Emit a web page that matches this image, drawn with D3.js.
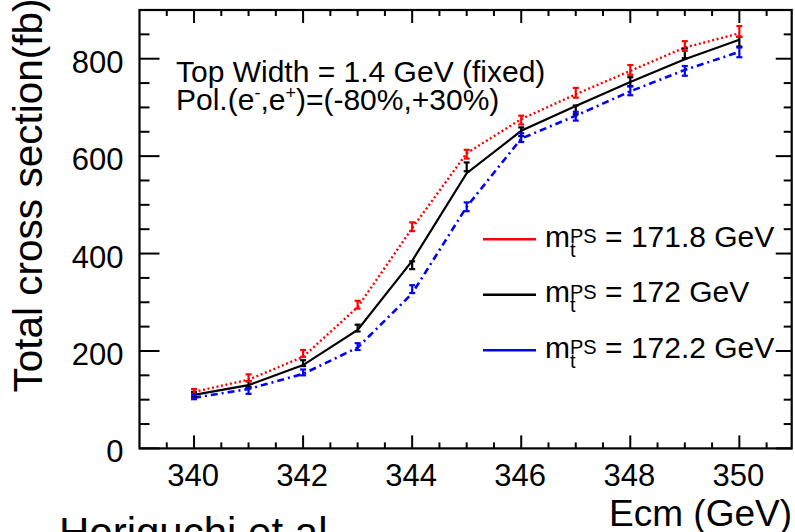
<!DOCTYPE html>
<html>
<head>
<meta charset="utf-8">
<script src="https://cdn.jsdelivr.net/npm/d3@7"></script>
<style>
  html, body { margin: 0; padding: 0; background: #fff; }
  svg { display: block; }
  text { font-family: "Liberation Sans", Arial, Helvetica, sans-serif; fill: #000; }
</style>
</head>
<body>
<svg id="chart" width="795" height="532"></svg>
<script>
// ---- data ----
const ecm = [340, 341, 342, 343, 344, 345, 346, 347, 348, 349, 350];

// theory curves
const lineRed   = [116, 141, 188, 290, 452, 606, 676, 727, 775, 823, 852];
const lineBlack = [110, 130, 171, 243, 385, 565, 652, 703, 752, 799, 839];
const lineBlue  = [104, 122, 153, 207, 318, 496, 636, 683, 733, 777, 814];

// simulated points with errors
const ptRed     = [116, 145, 195, 295, 455, 604, 674, 730, 777, 826, 856];
const errRed    = [6, 7, 7, 8, 9, 9, 9, 10, 10, 10, 11];
const ptBlack   = [111, 132, 175, 247, 376, 578, 650, 695, 753, 811, 835];
const errBlack  = [5, 6, 6, 7, 8, 9, 9, 9, 9, 10, 10];
const ptBlue    = [106, 118, 156, 209, 327, 496, 638, 682, 734, 775, 813];
const errBlue   = [5, 6, 6, 7, 8, 9, 9, 9, 9, 10, 10];

const seriesNames = ["171.8", "172", "172.2"];
const seriesColors = ["#ff0000", "#000000", "#0000ff"];

const xMajorTicks = [340, 342, 344, 346, 348, 350];
const yMajorTicks = [0, 200, 400, 600, 800];

const xTitle = "Ecm (GeV)";
const yTitle = "Total cross section(fb)";
const noteLine1 = "Top Width = 1.4 GeV (fixed)";
const footer = "Horiguchi et al.";

// ---- layout ----
const svg = d3.select("#chart");
const x = d3.scaleLinear().domain([339, 350.96]).range([139.5, 791.7]);
const y = d3.scaleLinear().domain([0, 900]).range([448.4, 10]);
const [x0, x1] = x.range();
const [y0, y1] = y.range();

// ---- ticks ----
const xMinor = d3.range(339.5, 351, 0.5).filter(v => !xMajorTicks.includes(v));
const yMinor = d3.range(50, 900, 50).filter(v => !yMajorTicks.includes(v));
const tk = svg.append("g").attr("stroke", "#000").attr("stroke-width", 2);
xMajorTicks.forEach(v => {
  tk.append("line").attr("x1", x(v)).attr("x2", x(v)).attr("y1", y0).attr("y2", y0 - 13);
  tk.append("line").attr("x1", x(v)).attr("x2", x(v)).attr("y1", y1).attr("y2", y1 + 13);
});
xMinor.forEach(v => {
  tk.append("line").attr("x1", x(v)).attr("x2", x(v)).attr("y1", y0).attr("y2", y0 - 6);
  tk.append("line").attr("x1", x(v)).attr("x2", x(v)).attr("y1", y1).attr("y2", y1 + 6);
});
yMajorTicks.forEach(v => {
  tk.append("line").attr("x1", x0).attr("x2", x0 + 20).attr("y1", y(v)).attr("y2", y(v));
  tk.append("line").attr("x1", x1).attr("x2", x1 - 16).attr("y1", y(v)).attr("y2", y(v));
});
yMinor.forEach(v => {
  tk.append("line").attr("x1", x0).attr("x2", x0 + 10).attr("y1", y(v)).attr("y2", y(v));
  tk.append("line").attr("x1", x1).attr("x2", x1 - 8).attr("y1", y(v)).attr("y2", y(v));
});

// frame
svg.append("rect").attr("x", x0).attr("y", y1).attr("width", x1 - x0).attr("height", y0 - y1)
  .attr("fill", "none").attr("stroke", "#000").attr("stroke-width", 2.2);

// tick labels
svg.append("g").selectAll("text").data(xMajorTicks).join("text")
  .attr("x", d => x(d) - 1).attr("y", 486).attr("text-anchor", "middle")
  .style("font-size", "31px").text(d => d);
svg.append("g").selectAll("text").data(yMajorTicks).join("text")
  .attr("x", 123.5).attr("y", d => y(d) + 14).attr("text-anchor", "end")
  .style("font-size", "31px").text(d => d);

// axis titles
svg.append("text").attr("x", 792).attr("y", 525.5).attr("text-anchor", "end")
  .style("font-size", "37px").text(xTitle);
svg.append("text").attr("transform", "translate(42,195.5) rotate(-90)")
  .attr("text-anchor", "middle").style("font-size", "40.5px").text(yTitle);
svg.append("text").attr("x", 59).attr("y", 547).style("font-size", "42px").text(footer);

// ---- curves ----
const line = d3.line().x((d, i) => x(ecm[i])).y(d => y(d));
svg.append("path").datum(lineBlack).attr("d", line).attr("fill", "none")
  .attr("stroke", seriesColors[1]).attr("stroke-width", 2.2);
svg.append("path").datum(lineRed).attr("d", line).attr("fill", "none")
  .attr("stroke", seriesColors[0]).attr("stroke-width", 2.4).attr("stroke-dasharray", "2,2.6");
svg.append("path").datum(lineBlue).attr("d", line).attr("fill", "none")
  .attr("stroke", seriesColors[2]).attr("stroke-width", 2.6).attr("stroke-dasharray", "7,4,2,4");

// ---- error bars ----
function errBars(vals, errs, color) {
  const g = svg.append("g").attr("stroke", color).attr("stroke-width", 2.2);
  vals.forEach((v, i) => {
    const cx = x(ecm[i]);
    const ya = y(v - errs[i]), yb = y(v + errs[i]);
    g.append("line").attr("x1", cx).attr("x2", cx).attr("y1", ya).attr("y2", yb);
    g.append("line").attr("x1", cx - 3).attr("x2", cx + 3).attr("y1", ya).attr("y2", ya);
    g.append("line").attr("x1", cx - 3).attr("x2", cx + 3).attr("y1", yb).attr("y2", yb);
  });
}
errBars(ptBlack, errBlack, seriesColors[1]);
errBars(ptRed, errRed, seriesColors[0]);
errBars(ptBlue, errBlue, seriesColors[2]);

// ---- annotation ----
svg.append("text").attr("x", 176).attr("y", 82).style("font-size", "30px").text(noteLine1);
const note2 = svg.append("text").attr("x", 176).attr("y", 110).style("font-size", "30px");
note2.append("tspan").text("Pol.(e");
note2.append("tspan").attr("dy", -11).style("font-size", "18px").text("-");
note2.append("tspan").attr("dy", 11).text(",e");
note2.append("tspan").attr("dy", -11).style("font-size", "18px").text("+");
note2.append("tspan").attr("dy", 11).text(")=(-80%,+30%)");

// ---- legend ----
function measure(str, size) {
  const t = svg.append("text").style("font-size", size).text(str);
  const w = t.node().getComputedTextLength();
  t.remove();
  return w;
}
const wm = measure("m", "30px");
const wps = measure("PS", "20px");
const wt = measure("t", "20px");
seriesNames.forEach((name, i) => {
  const base = 246.7 + i * 55.5;
  svg.append("line").attr("x1", 483).attr("x2", 536).attr("y1", base - 7.4).attr("y2", base - 7.4)
    .attr("stroke", seriesColors[i]).attr("stroke-width", 2.4);
  const t = svg.append("text").attr("x", 545).attr("y", base).style("font-size", "30px")
    .attr("xml:space", "preserve").style("white-space", "pre");
  t.append("tspan").text("m");
  t.append("tspan").attr("dy", -3.5).style("font-size", "20px").text("PS");
  t.append("tspan").attr("dx", -wps).attr("dy", 13.5).style("font-size", "20px").text("t");
  t.append("tspan").attr("dx", wps - wt).attr("dy", -10).text(" = " + name + " GeV");
});
</script>
</body>
</html>
